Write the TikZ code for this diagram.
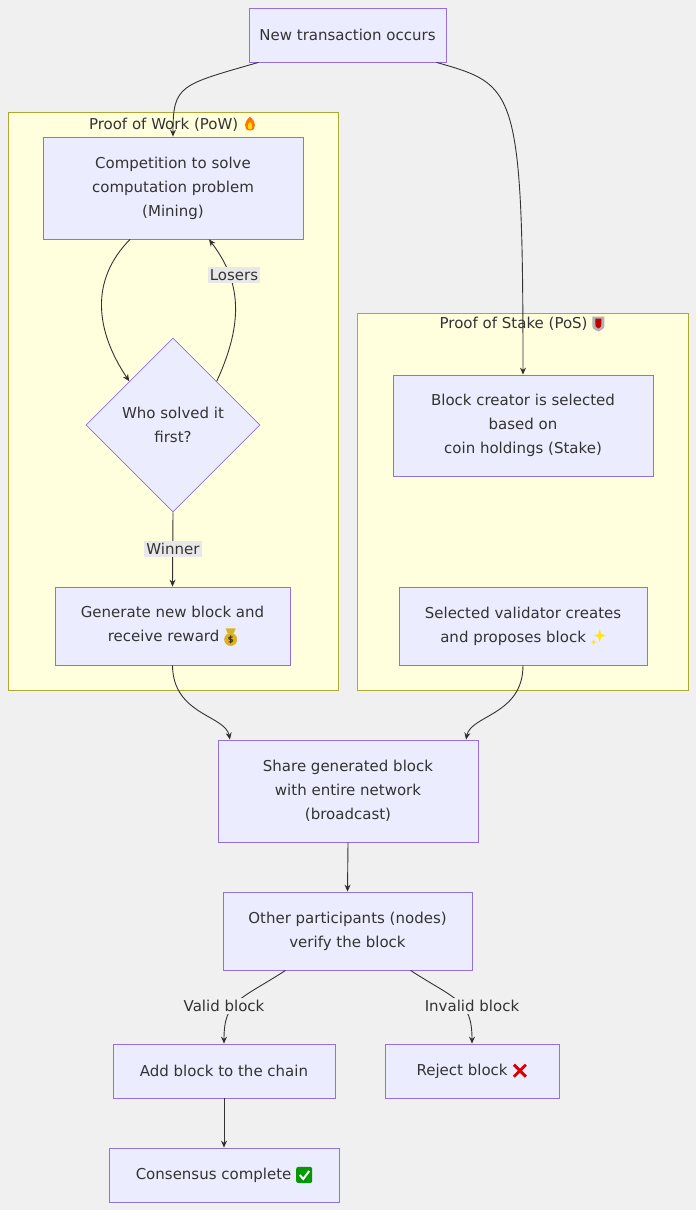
\documentclass[tikz,border=0pt]{standalone}
\usepackage{fontspec}
\setmainfont{DejaVu Sans}
\usetikzlibrary{arrows.meta,shapes.geometric}
\definecolor{nodefill}{HTML}{ECECFF}
\definecolor{nodeline}{HTML}{9370DB}
\definecolor{clusterfill}{HTML}{FFFFDE}
\definecolor{clusterline}{HTML}{AAAA33}
\definecolor{bgray}{HTML}{F0F0F0}
\definecolor{lblgray}{HTML}{E8E8E8}
\definecolor{edgecol}{HTML}{333333}
% small icons standing in for the emoji
\newcommand{\icfire}{\tikz[baseline=-5pt,x=1pt,y=1pt]{\fill[orange!90!red] (0,-6) .. controls (-7,-6) and (-6,3) .. (0,8) .. controls (6,3) and (7,-6) .. (0,-6);\fill[yellow!80!orange] (0,-5) .. controls (-3,-5) and (-3,0) .. (0,3) .. controls (3,0) and (3,-5) .. (0,-5);}}
\newcommand{\icshield}{\tikz[baseline=-5pt,x=1pt,y=1pt]{\fill[gray!60] (-6,7) -- (6,7) -- (6,0) .. controls (6,-5) .. (0,-8) .. controls (-6,-5) .. (-6,0) -- cycle;\fill[red!75!black] (-3,5) -- (3,5) -- (3,0) .. controls (3,-3) .. (0,-5) .. controls (-3,-3) .. (-3,0) -- cycle;}}
\newcommand{\icbag}{\tikz[baseline=-5pt,x=1pt,y=1pt]{\fill[brown!60!yellow] (0,-3) circle (6.5);\fill[brown!60!yellow] (-3,3) -- (3,3) -- (5,8) -- (-5,8) -- cycle;\draw[brown!40!black,line width=1pt] (2,-0.5) .. controls (-3,0) and (-3,-3) .. (0,-3) .. controls (3,-3) and (3,-6) .. (-2,-5.5) (0,1) -- (0,-7);}}
\newcommand{\icspark}{\tikz[baseline=-5pt,x=1pt,y=1pt]{\fill[yellow!90!orange] (2,8) -- (3.5,3) -- (8,1.5) -- (3.5,0) -- (2,-5) -- (0.5,0) -- (-4,1.5) -- (0.5,3) -- cycle;\fill[yellow!90!orange] (-4,-2) -- (-3.3,-4.3) -- (-1,-5) -- (-3.3,-5.7) -- (-4,-8) -- (-4.7,-5.7) -- (-7,-5) -- (-4.7,-4.3) -- cycle;}}
\newcommand{\iccross}{\tikz[baseline=-5pt,x=1pt,y=1pt]{\draw[red!85!black,line width=3pt] (-6,-6) -- (6,6) (-6,6) -- (6,-6);}}
\newcommand{\iccheck}{\tikz[baseline=-5pt,x=1pt,y=1pt]{\fill[green!60!black,rounded corners=2pt] (-8,-8) rectangle (8,8);\draw[white,line width=2pt] (-4.5,0) -- (-1,-4) -- (5,4);}}
\tikzset{
  box/.style={draw=nodeline,fill=nodefill,line width=0.8pt,align=center,font=\fontsize{15}{24}\selectfont,text=edgecol,inner sep=0},
  dec/.style={diamond,draw=nodeline,fill=nodefill,line width=0.8pt,align=center,font=\fontsize{15}{24}\selectfont,text=edgecol,inner sep=0,minimum width=174pt,minimum height=174pt},
  cluster/.style={draw=clusterline,fill=clusterfill,line width=0.8pt},
  ctitle/.style={font=\fontsize{15}{18}\selectfont,text=edgecol},
  flow/.style={draw=edgecol,line width=0.9pt,-{Stealth[length=7pt,width=6pt]}},
  lbl/.style={fill=lblgray,font=\fontsize{15}{18}\selectfont,text=edgecol,inner sep=2pt}
}
\begin{document}
\begin{tikzpicture}[x=1pt,y=-1pt]
\fill[bgray] (0,0) rectangle (696,1210);
\useasboundingbox (0,0) rectangle (696,1210);
% clusters
\draw[cluster] (8,112) rectangle (338,690);
\node[ctitle] (powt) at (173,124) {Proof of Work (PoW) \icfire};
\draw[cluster] (357,313) rectangle (688,690);
\node[ctitle] (post) at (522,324) {Proof of Stake (PoS) \icshield};
% nodes
\node[box,minimum width=197pt,minimum height=54pt] (new) at (347.5,35) {New transaction occurs};
\node[box,minimum width=260pt,minimum height=102pt] (comp) at (173,188) {Competition to solve\\computation problem\\(Mining)};
\node[dec] (who) at (173,425) {Who solved it\\first?};
\node[box,minimum width=235pt,minimum height=78pt] (gen) at (172.5,626) {Generate new block and\\receive reward \icbag};
\node[box,minimum width=260pt,minimum height=101pt] (sel) at (523,425.5) {Block creator is selected\\based on\\coin holdings (Stake)};
\node[box,minimum width=248pt,minimum height=78pt] (val) at (523,626) {Selected validator creates\\and proposes block \icspark};
\node[box,minimum width=260pt,minimum height=102pt] (share) at (348,791) {Share generated block\\with entire network\\(broadcast)};
\node[box,minimum width=249pt,minimum height=78pt] (ver) at (347.5,931) {Other participants (nodes)\\verify the block};
\node[box,minimum width=222pt,minimum height=54pt] (add) at (224,1071) {Add block to the chain};
\node[box,minimum width=174pt,minimum height=54pt] (rej) at (472,1071) {Reject block \iccross};
\node[box,minimum width=230pt,minimum height=54pt] (cons) at (224,1175) {Consensus complete \iccheck};
% connectors
\draw[flow] ([xshift=-89pt]new.south) .. controls (180,85) and (173,85) .. ([xshift=0pt]comp.north);
\draw[flow] ([xshift=89pt]new.south) .. controls (515,85) and (523,85) .. (sel.north);
\draw[flow] ([xshift=-43pt]comp.south) .. controls (90,280) and (95,330) .. (who.north west);
\draw[flow] (who.north east) .. controls (245,320) and (240,280) .. ([xshift=36pt]comp.south);
\node[lbl] (los) at (234,275) {Losers};
\draw[flow] (who.south) -- (gen.north);
\node[lbl] (win) at (173,549) {Winner};
\draw[flow] (gen.south) .. controls (173,715) and (225,715) .. ([xshift=-118pt]share.north);
\draw[flow] (val.south) .. controls (523,715) and (471,715) .. ([xshift=118pt]share.north);
\draw[flow] (share.south) -- (ver.north);
\draw[flow] ([xshift=-62pt]ver.south) .. controls (240,1000) and (224,1000) .. (add.north);
\draw[flow] ([xshift=63pt]ver.south) .. controls (456,1000) and (472,1000) .. (rej.north);
\node[lbl,fill=bgray] (vb) at (224,1006) {Valid block};
\node[lbl,fill=bgray] (ib) at (472,1006) {Invalid block};
\draw[flow] (add.south) -- (cons.north);
\end{tikzpicture}
\end{document}
